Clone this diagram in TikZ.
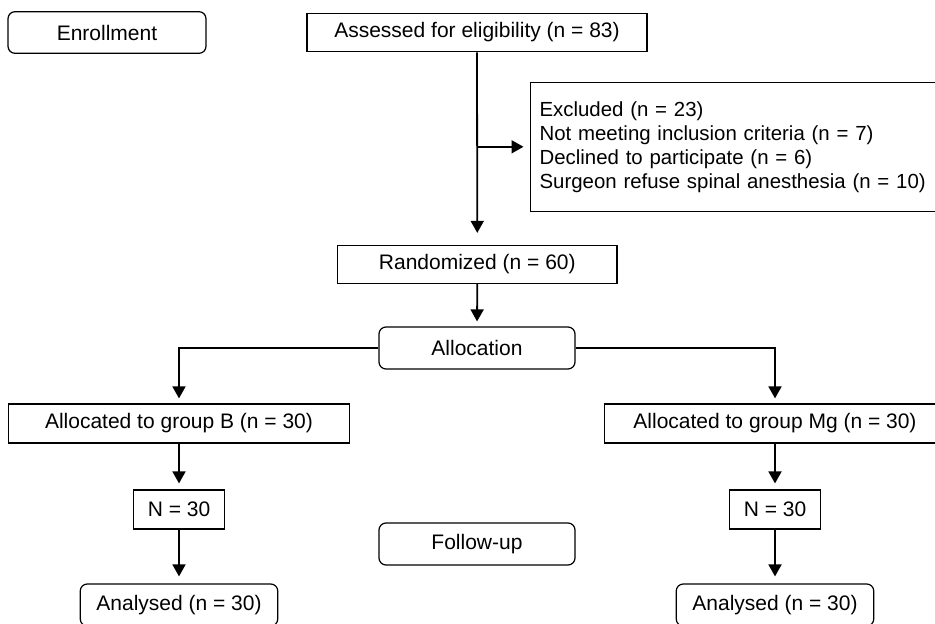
\documentclass[tikz,border=0pt]{standalone}
\usepackage{fontspec}
\setmainfont{Liberation Sans}
\usetikzlibrary{arrows.meta}
\begin{document}
\begin{tikzpicture}[x=1pt,y=-1pt,
  font=\fontsize{21pt}{24pt}\selectfont,
  box/.style={draw=black,line width=1.2pt,fill=white,inner sep=0pt,align=center},
  rbox/.style={box,rounded corners=7pt},
  conn/.style={line width=1.8pt},
  arr/.style={conn,-{Triangle[length=12pt,width=13pt]}}
]
\clip (0,0) rectangle (935,624);
\fill[white] (0,0) rectangle (935,624);

\node[rbox,minimum width=198pt,minimum height=41.6pt] (enr) at (107,32.5) {Enrollment};
\node[box,minimum width=340pt,minimum height=38.4pt] (ass) at (477,32.5) {Assessed for eligibility (n = 83)};
\node[box,anchor=north west,minimum width=420pt,minimum height=129pt,text width=401pt,align=left,inner xsep=8.5pt,font=\fontsize{20.4pt}{24pt}\selectfont] (exc) at (529.5,81.7)
  {Excluded (n = 23)\\Not meeting inclusion criteria (n = 7)\\Declined to participate (n = 6)\\Surgeon refuse spinal anesthesia (n = 10)};
\node[box,minimum width=279.5pt,minimum height=38pt] (rand) at (477.3,264.5) {Randomized (n = 60)};
\node[rbox,minimum width=196pt,minimum height=42pt] (alloc) at (477,348) {Allocation};
\node[box,minimum width=341pt,minimum height=39pt] (gB) at (179,423.5) {Allocated to group B (n = 30)};
\node[box,minimum width=341pt,minimum height=39pt] (gMg) at (775,423.5) {Allocated to group Mg (n = 30)};
\node[box,minimum width=91pt,minimum height=39pt] (nB) at (179,509.5) {N = 30};
\node[box,minimum width=91pt,minimum height=39pt] (nMg) at (775,509.5) {N = 30};
\node[rbox,minimum width=196pt,minimum height=42pt] (fu) at (477,544) {Follow-up};
\node[rbox,minimum width=197.5pt,minimum height=42pt] (aB) at (179,605) {Analysed (n = 30)};
\node[rbox,minimum width=197.5pt,minimum height=42pt] (aMg) at (775,605) {Analysed (n = 30)};

\draw[arr,shorten >=12pt] (ass.south) -- (rand.north);
\draw[arr,shorten >=6pt] (ass.south |- exc.west) -- (exc.west);
\draw[arr,shorten >=5pt] (rand.south) -- (alloc.north);
\draw[arr,shorten >=5pt] (alloc.west) -| (gB.north);
\draw[arr,shorten >=5pt] (alloc.east) -| (gMg.north);
\draw[arr,shorten >=6pt] (gB.south) -- (nB.north);
\draw[arr,shorten >=6pt] (gMg.south) -- (nMg.north);
\draw[arr,shorten >=7pt] (nB.south) -- (aB.north);
\draw[arr,shorten >=7pt] (nMg.south) -- (aMg.north);
\end{tikzpicture}
\end{document}
